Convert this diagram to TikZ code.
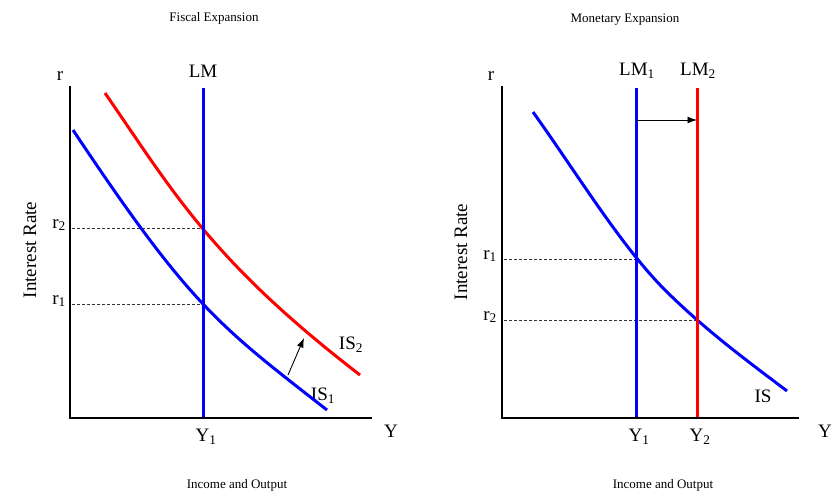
\documentclass[tikz,border=0pt]{standalone}
\usepackage{fontspec}
\setmainfont{Liberation Serif}
\usetikzlibrary{arrows.meta}

\begin{document}
\begin{tikzpicture}[x=1pt,y=-1pt,
        axis/.style={line width=1.5pt},
        curve/.style={line width=3pt},
        guide/.style={line width=0.6pt, dash pattern=on 3pt off 2pt, black!80},
        shiftarrow/.style={-{Latex[length=9.5pt, width=7pt]}, line width=0.9pt},
        lbl/.style={font=\fontsize{19}{19}\selectfont, inner sep=1pt},
        heading/.style={font=\fontsize{13}{13}\selectfont, inner sep=1pt}]
                \useasboundingbox (0,0) rectangle (840,495);

                % Left panel: fiscal expansion
                \coordinate (o1) at (70,418);
                \coordinate (rtop1) at (70,86);
                \coordinate (yend1) at (372,418);
                \coordinate (lmtop) at (203,88);
                \coordinate (lmbot) at (203,418);
                \coordinate (rtwo1) at (72,228);
                \coordinate (rone1) at (72,304);
                \coordinate (eqtwo1) at (203,228);
                \coordinate (eqone1) at (203,304);
                \coordinate (shiftA) at (288,375);
                \coordinate (shiftB) at (304,338);

                \node[heading] (title1) at (214,18) {Fiscal Expansion};
                \node[heading] (xlab1) at (237,485) {Income and Output};
                \node[lbl, rotate=90] (ylab1) at (30,250) {Interest Rate};
                \node[lbl] (r1) at (60,76) {r};
                \node[lbl] (Y1) at (391,431) {Y};
                \node[lbl] (LM) at (203,71) {LM};
                \node[lbl] (Yone1) at (206,437) {Y\textsubscript{1}};
                \node[lbl, anchor=east] (rtwo) at (67,225) {r\textsubscript{2}};
                \node[lbl, anchor=east] (rone) at (67,301) {r\textsubscript{1}};
                \node[lbl] (IStwo) at (351,345) {IS\textsubscript{2}};
                \node[lbl] (ISone) at (323,396) {IS\textsubscript{1}};

                \draw[guide] (rtwo1)--(eqtwo1);
                \draw[guide] (rone1)--(eqone1);
                \draw[curve, blue] (73,130) .. controls (190,305.5) and (218,325) .. (327,410);
                \draw[curve, red] (105,93) .. controls (174.5,193.8) and (212,261) .. (360,375);
                \draw[curve, blue] (lmtop)--(lmbot);
                \draw[axis] (rtop1)--(o1)--(yend1);
                \draw[shiftarrow] (shiftA)--(shiftB);

                % Right panel: monetary expansion
                \coordinate (o2) at (502,418);
                \coordinate (rtop2) at (502,86);
                \coordinate (yend2) at (799,418);
                \coordinate (lmonetop) at (636,88);
                \coordinate (lmonebot) at (636,418);
                \coordinate (lmtwotop) at (697,88);
                \coordinate (lmtwobot) at (697,418);
                \coordinate (rone2) at (504,259);
                \coordinate (rtwo2) at (504,320);
                \coordinate (eqone2) at (636,259);
                \coordinate (eqtwo2) at (697,320);
                \coordinate (moveA) at (636,120);
                \coordinate (moveB) at (697,120);

                \node[heading] (title2) at (625,20) {Monetary Expansion};
                \node[heading] (xlab2) at (663,485) {Income and Output};
                \node[lbl, rotate=90] (ylab2) at (461,252) {Interest Rate};
                \node[lbl] (r2) at (491,76) {r};
                \node[lbl] (Y2) at (825,431) {Y};
                \node[lbl] (LMone) at (637,71) {LM\textsubscript{1}};
                \node[lbl] (LMtwo) at (698,71) {LM\textsubscript{2}};
                \node[lbl] (Yone2) at (639,437) {Y\textsubscript{1}};
                \node[lbl] (Ytwo2) at (700,437) {Y\textsubscript{2}};
                \node[lbl, anchor=east] (ronel) at (498,256) {r\textsubscript{1}};
                \node[lbl, anchor=east] (rtwol) at (498,317) {r\textsubscript{2}};
                \node[lbl] (IS) at (763,396) {IS};

                \draw[guide] (rone2)--(eqone2);
                \draw[guide] (rtwo2)--(eqtwo2);
                \draw[curve, blue] (533,112) .. controls (577,173.6) and (621,246) .. (665,290)
                    .. controls (705,330) and (750,363) .. (787,391);
                \draw[curve, blue] (lmonetop)--(lmonebot);
                \draw[curve, red] (lmtwotop)--(lmtwobot);
                \draw[axis] (rtop2)--(o2)--(yend2);
                \draw[shiftarrow] (moveA)--(moveB);
\end{tikzpicture}
\end{document}
